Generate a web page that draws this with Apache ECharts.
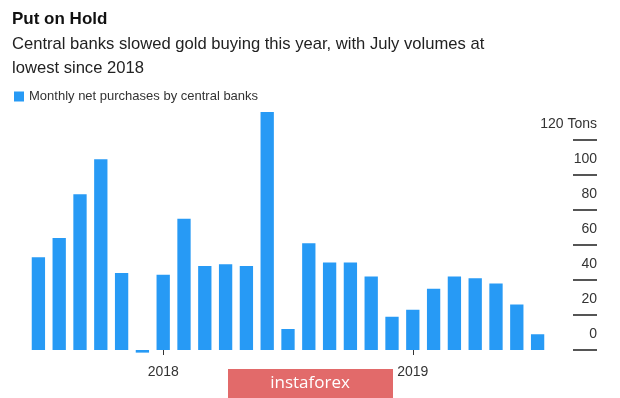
<!DOCTYPE html>
<html>
<head>
<meta charset="utf-8">
<script src="https://cdn.jsdelivr.net/npm/echarts@6/dist/echarts.min.js"></script>
<style>
  html, body { margin: 0; padding: 0; background: #fff; }
  #chart { width: 620px; height: 398px; }
</style>
</head>
<body>
<div id="chart"></div>
<script>
// monthly, Jul 2017 .. Jul 2019
var months = ['2017-07', '2017-08', '2017-09', '2017-10', '2017-11', '2017-12',
  '2018-01', '2018-02', '2018-03', '2018-04', '2018-05', '2018-06',
  '2018-07', '2018-08', '2018-09', '2018-10', '2018-11', '2018-12',
  '2019-01', '2019-02', '2019-03', '2019-04', '2019-05', '2019-06', '2019-07'];
// tons
var purchases = [53, 64, 89, 109, 44, -1.5, 43, 75, 48, 49, 48, 136,
  12, 61, 50, 50, 42, 19, 23, 35, 42, 41, 38, 26, 9];
var yTicks = [0, 20, 40, 60, 80, 100, 120];

var font = '"Liberation Sans", Arial, sans-serif';
var chart = echarts.init(document.getElementById('chart'));

function isYearStart(index) {
  return months[index].slice(5) === '01';
}

var option = {
  animation: false,
  title: [{
    text: 'Put on Hold',
    left: 12,
    top: 8,
    padding: 0,
    textStyle: { fontFamily: font, fontSize: 17, fontWeight: 'bold', color: '#111', lineHeight: 22 }
  }, {
    text: 'Central banks slowed gold buying this year, with July volumes at\nlowest since 2018',
    left: 12,
    top: 32,
    padding: 0,
    textStyle: { fontFamily: font, fontSize: 16.6, fontWeight: 'normal', color: '#222', lineHeight: 24 }
  }],
  legend: {
    data: ['Monthly net purchases by central banks'],
    left: 9,
    top: 85,
    icon: 'rect',
    itemWidth: 10,
    itemHeight: 10,
    textStyle: { fontFamily: font, fontSize: 13, color: '#333' }
  },
  grid: {
    left: 28,
    right: 72,
    top: 140,
    bottom: 48
  },
  xAxis: {
    type: 'category',
    data: months,
    offset: 4,
    axisLine: { show: false },
    axisTick: {
      show: true,
      alignWithLabel: true,
      length: 5,
      interval: function (index) { return isYearStart(index); },
      lineStyle: { color: '#333', width: 1 }
    },
    axisLabel: {
      interval: function (index) { return isYearStart(index); },
      formatter: function (v) { return v.slice(0, 4); },
      margin: 11,
      fontFamily: font,
      fontSize: 14,
      color: '#333'
    },
    splitLine: { show: false }
  },
  yAxis: {
    type: 'value',
    position: 'right',
    offset: 25,
    min: yTicks[0],
    max: yTicks[yTicks.length - 1],
    interval: 20,
    axisLine: { show: false },
    axisTick: { show: true, length: 24, lineStyle: { color: '#555', width: 2 } },
    splitLine: { show: false },
    axisLabel: {
      margin: 24,
      align: 'right',
      verticalAlign: 'bottom',
      lineHeight: 16,
      padding: [0, 0, 8, 0],
      fontFamily: font,
      fontSize: 14,
      color: '#333',
      formatter: function (v) { return v === 120 ? '120 Tons' : String(v); }
    }
  },
  series: [{
    name: 'Monthly net purchases by central banks',
    type: 'bar',
    data: purchases,
    clip: false,
    barCategoryGap: '36%',
    itemStyle: { color: '#279af5' }
  }],
  graphic: [{
    type: 'rect',
    shape: { x: 228, y: 369, width: 165, height: 29 },
    style: { fill: '#e26a6a' },
    z: 100
  }, {
    type: 'text',
    x: 310,
    y: 383,
    style: {
      text: 'instaforex',
      fill: '#fff',
      font: '17px "Open Sans", "Liberation Sans", sans-serif',
      align: 'center',
      verticalAlign: 'middle'
    },
    z: 101
  }]
};

chart.setOption(option);
</script>
</body>
</html>
